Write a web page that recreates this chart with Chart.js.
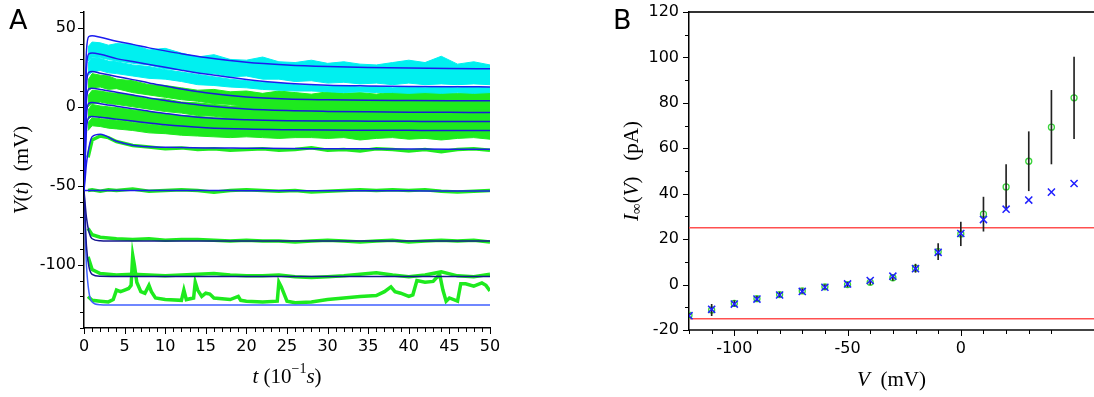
<!DOCTYPE html>
<html>
<head>
<meta charset="utf-8">
<script src="https://cdn.jsdelivr.net/npm/chart.js@4.4.0/dist/chart.umd.min.js"></script>
<style>
  body { margin: 0; background: #fff; }
  #wrap { position: relative; width: 1094px; height: 397px; }
  canvas { position: absolute; top: 0; }
</style>
</head>
<body>
<div id="wrap">
  <canvas id="chartA" width="560" height="397" style="left:0"></canvas>
  <canvas id="chartB" width="534" height="397" style="left:560px"></canvas>
</div>
<script>
// ---- panel A : fitted curves (time in 10^-1 s, V in mV)
var tFit = [0, 0.15, 0.3, 0.6, 1, 2, 4, 6, 8, 10, 12, 15, 20, 25, 30, 35, 40, 45, 50];
var fit1  = [-53, 5, 35, 44.5, 45, 44, 41.5, 39.5, 37.3, 35.4, 33.6, 31.2, 28.2, 26.5, 25.5, 24.9, 24.5, 24.2, 24.1];
var fit2  = [-53, -5, 24, 33.5, 34, 33.2, 30.5, 28.6, 26.8, 25, 23.2, 20.7, 17.3, 14.9, 13.7, 13.2, 12.9, 12.7, 12.6];
var fit3  = [-53, -15, 13, 21.8, 22.3, 21.3, 19.2, 17.2, 15.1, 13.2, 11.3, 8.9, 6.2, 4.9, 4.4, 4.1, 4, 3.9, 3.8];
var fit4  = [-53, -22, 3, 11.3, 11.8, 11, 9.2, 7.4, 5.6, 4, 2.5, 0.6, -1.4, -2.4, -2.9, -3.2, -3.4, -3.5, -3.6];
var fit5  = [-53, -28, -6, 2.2, 2.7, 2, 0.4, -1.2, -2.8, -4.2, -5.5, -7, -8.2, -8.8, -9, -9.1, -9.2, -9.3, -9.3];
var fit6  = [-53, -34, -15, -6.6, -6.1, -6.6, -7.8, -9, -10.2, -11.3, -12.2, -13.2, -14.1, -14.5, -14.7, -14.8, -14.9, -15, -15];
var fit7  = [-53, -45, -36, -26, -19, -17.4, -21.8, -24.3, -25.3, -25.6, -25.8, -26, -26.2, -26.4, -26.5, -26.6, -26.7, -26.8, -26.8];
var fit8  = [-53, -53, -53, -53, -53, -53, -53, -53, -53, -53, -53, -53, -53.1, -53.1, -53.2, -53.2, -53.2, -53.3, -53.3];
var fit9  = [-53, -62, -70, -79, -83.5, -84.8, -85, -85, -85, -85, -85, -85, -85, -85, -85, -85, -85, -85, -85];
var fit10 = [-53, -72, -88, -101, -106, -107.3, -107.4, -107.4, -107.4, -107.4, -107.4, -107.4, -107.4, -107.4, -107.4, -107.4, -107.4, -107.4, -107.4];
var fit11 = [-53, -80, -100, -117, -123.5, -125.3, -125.5, -125.5, -125.5, -125.5, -125.5, -125.5, -125.5, -125.5, -125.5, -125.5, -125.5, -125.5, -125.5];

// ---- panel A : noisy recordings, upper / lower envelopes
var tN = [0.5, 1, 2, 3, 4, 6, 8, 10, 12, 14, 16, 18, 20, 22, 24, 26, 28, 30, 32, 34, 36, 38, 40, 42, 44, 46, 48, 50];
var cyanAUp = [38, 41, 40.5, 39, 40, 39.5, 36, 37, 34, 31.5, 33, 30, 29.5, 31.5, 28.5, 28, 29.5, 27.5, 28.5, 27, 26.5, 28, 29.5, 28, 32, 27, 28.5, 26.5];
var cyanALo = [29, 31.5, 31, 30, 29, 27.5, 26.5, 24, 23.5, 21.5, 21, 19, 19.5, 17.5, 17.5, 16, 16.5, 15, 15.5, 14.5, 15, 14, 15, 14, 14.5, 14, 14.5, 14];
var cyanBUp = [28, 31, 30.5, 29, 28.5, 26.5, 25.5, 23.5, 22, 20.5, 19, 17.5, 16.5, 15.5, 15, 14, 13.5, 13, 13.5, 12.5, 13, 12, 12.5, 12, 12.5, 12, 12.5, 12];
var cyanBLo = [20, 22, 23, 21.5, 21, 19.5, 18, 17.5, 16, 14, 13.5, 12.5, 12, 11, 10.5, 10, 10, 9.5, 9, 9.5, 9, 9, 8.5, 9, 8.5, 9, 8.5, 9];
var g3Up = [17, 21, 20, 19.5, 17.5, 16.5, 14, 13.5, 12, 10.5, 11, 9.5, 10, 8.5, 10, 9, 8, 9.5, 8.5, 9, 8, 9.5, 8.5, 10, 9, 8.5, 9.5, 9];
var g3Lo = [10, 12, 12.5, 11, 11.5, 9, 7.5, 6, 4.5, 3.5, 2, 1.5, 0.5, 0, -0.5, -1, -1, -1.5, -1, -2, -1.5, -2, -1.5, -2, -2, -1.5, -2, -2];
var g4Up = [7, 10.5, 10, 9, 8.5, 7.5, 5, 5, 3, 2.5, 1.5, 0.5, 1, 0, 0.5, -0.5, 0, -1, 0, -1, -0.5, -1.5, 0, -1, -0.5, -1, 0, -1];
var g4Lo = [0, 2, 3, 2, 1.5, 0, -1.5, -3, -4, -5.5, -6, -7, -7.5, -8, -8.5, -8.5, -9, -9, -9.5, -9, -9.5, -10, -9.5, -10, -10, -9.5, -10, -10];
var g5Up = [-2, 1.5, 0.5, 0, -0.5, -2, -3, -4.5, -5.5, -6, -7, -7, -7.5, -8, -7.5, -8, -8.5, -8, -8.5, -8, -9, -8.5, -8.5, -9, -8.5, -9, -8.5, -9];
var g5Lo = [-8, -6, -6.5, -7.5, -8, -9.5, -10.5, -11.5, -13, -13.5, -14, -14.5, -15, -15, -15.5, -15.5, -15.5, -16, -15.5, -16, -16, -16.5, -16, -16, -16.5, -16, -16.5, -16];
var g6Up = [-10, -7, -7.5, -8, -8.5, -10, -11, -12, -13, -13.5, -14, -14.5, -15, -15, -15, -15.5, -15.5, -15.5, -15.5, -16, -15.5, -16, -16, -16, -16, -16, -16, -16];
var g6Lo = [-15, -12, -12.5, -13.5, -14, -15, -16.5, -17, -18, -18.5, -19, -19.5, -19, -19.5, -20, -19.5, -19.5, -20, -19.5, -21, -20, -19.5, -20.5, -20, -21, -20, -19.5, -20.5];
var g7  = [-32, -21, -18.5, -19.5, -22, -24.5, -25.5, -26.5, -26, -27, -26.5, -27.5, -27, -26.5, -27.5, -27, -26, -27.5, -27, -28, -26.5, -27, -28, -27, -28.5, -27, -26.5, -27.5];
var g8  = [-53, -52.5, -53.5, -52.5, -53, -52, -53.5, -53, -52.5, -53, -54, -53, -52.5, -53, -53.5, -53, -54, -53.5, -53, -52.5, -53, -52.5, -53, -52.5, -53.5, -54, -53.5, -53];
var g9  = [-77, -81, -82.5, -83, -83.5, -84, -83.5, -84.5, -84, -84, -84.5, -85, -84.5, -85, -85, -85.5, -85, -84.5, -85, -85.5, -85, -84.5, -85.5, -85, -84.5, -85, -84.5, -85.5];
var g10 = [-95, -103, -105.5, -106, -106.5, -106, -106.5, -107, -106.5, -106, -105.5, -106.5, -107, -107, -106.5, -107.5, -108, -107.5, -107, -106, -105, -106.5, -107.5, -106.5, -104.5, -107, -107.5, -106];
var tG11 = [0.5, 1, 2, 3, 3.6, 4, 4.5, 5, 5.5, 5.8, 6, 6.2, 6.5, 7, 7.5, 8, 8.3, 8.8, 10, 12, 12.3, 12.6, 13.5, 13.7, 14, 14.5, 15, 15.5, 16, 18, 19, 19.3, 20, 22, 23.8, 24, 24.3, 25, 26, 28, 30, 32, 34, 36, 37, 37.8, 38.3, 39, 40, 40.5, 41, 42, 43, 43.8, 44.2, 44.6, 45, 46, 46.4, 47, 48, 49, 49.5, 50];
var g11  = [-120, -122.5, -123, -123.5, -122, -116, -117, -116, -115, -113, -94, -100, -111, -117, -118, -113, -117, -121, -122, -122.5, -116, -122, -121, -111, -116, -120, -118, -118.5, -121, -122, -120, -122.5, -123, -123.5, -123, -111, -114, -123, -124, -123.5, -122, -121, -120, -119.5, -117, -114, -117, -118, -120, -119, -110, -111, -110.5, -106, -116, -123, -121, -123, -112, -112, -113.5, -111.5, -113, -116.5];

// ---- panel B : steady state current
var vSteps = [-120, -110, -100, -90, -80, -70, -60, -50, -40, -30, -20, -10, 0, 10, 20, 30, 40, 50];
var iMeas  = [-13.5, -11.2, -8.3, -6.2, -4.4, -2.8, -1, 0, 1, 3, 7.2, 14.5, 22.3, 31, 43, 54.3, 69.3, 82.2];
var iErr   = [1, 2.5, 1.2, 1, 1, 1, 1, 1, 1, 1.2, 1.8, 3.5, 5.2, 7.5, 9.8, 13, 16.2, 18];
var iModel = [-13.7, -10.9, -8.6, -6.4, -4.6, -3, -1.2, 0.3, 1.8, 3.7, 7, 14.2, 22.5, 28.6, 33.2, 37.2, 40.7, 44.5];
var redLevels = [25, -15];
var vMin = -120, vMax = 58.8;

var CYAN = '#00f0f0', GREEN = '#1eea1e';
var tickFont = { family: 'DejaVu Sans', size: 16 };

function xy(ts, vs) { return ts.map(function (t, i) { return { x: t, y: vs[i] }; }); }
function near(v, step) { return Math.abs(v / step - Math.round(v / step)) < 1e-6; }
// fixed axis boxes, no extra room for overflowing labels
function fixX(h) { return function (s) { s.height = h; s.paddingLeft = 0; s.paddingRight = 0; }; }
function fixY(w) { return function (s) { s.width = w; s.paddingTop = 0; s.paddingBottom = 0; }; }

// ticks drawn from the scale positions, longer at labelled values
var tickMarks = {
  id: 'tickMarks',
  afterDraw: function (chart, args, opts) {
    var ctx = chart.ctx;
    ctx.save();
    ctx.strokeStyle = '#000';
    ctx.lineWidth = 1;
    ['x', 'y'].forEach(function (id) {
      var s = chart.scales[id], o = opts[id];
      s.ticks.forEach(function (t) {
        if (!near(t.value, o.minor)) return;
        var len = near(t.value, o.major) ? 6 : 4;
        var p = Math.round(s.getPixelForValue(t.value)) + 0.5;
        ctx.beginPath();
        if (s.isHorizontal()) { ctx.moveTo(p, s.top); ctx.lineTo(p, s.top + len); }
        else { ctx.moveTo(s.right, p); ctx.lineTo(s.right - len, p); }
        ctx.stroke();
      });
    });
    ctx.restore();
  }
};

// axis titles with italic / sub / superscript parts
function drawRich(ctx, segs, cx, cy, rot) {
  ctx.save();
  ctx.translate(cx, cy);
  ctx.rotate(rot);
  ctx.textBaseline = 'middle';
  ctx.fillStyle = '#000';
  var font = function (s) { return (s.i ? 'italic ' : '') + (s.s || 21) + 'px "Liberation Serif"'; };
  var w = 0;
  segs.forEach(function (s) { ctx.font = font(s); s.w = ctx.measureText(s.t).width; w += s.w; });
  var x = -w / 2;
  segs.forEach(function (s) { ctx.font = font(s); ctx.fillText(s.t, x, s.dy || 0); x += s.w; });
  ctx.restore();
}

var titles = {
  id: 'titles',
  afterDraw: function (chart, args, o) {
    var ctx = chart.ctx, a = chart.chartArea;
    drawRich(ctx, o.y, a.left + o.yOff, (a.top + a.bottom) / 2, -Math.PI / 2);
    drawRich(ctx, o.x, (a.left + a.right) / 2, a.bottom + o.xOff, 0);
    ctx.save();
    ctx.font = '27px "DejaVu Sans"';
    ctx.fillStyle = '#000';
    ctx.textBaseline = 'alphabetic';
    ctx.fillText(o.letter, a.left + o.letterX, 29);
    ctx.restore();
  }
};

// ---------------- panel A
var dsA = [];
var fitColors = ['#1c1cf0', '#1c1cf0', '#1a1ad8', '#1a1ad8', '#1a1ad8', '#1a1ad8', '#1c1ce8', '#1c1ce8', '#161690', '#161690', '#4060ff'];
[fit1, fit2, fit3, fit4, fit5, fit6, fit7, fit8, fit9, fit10, fit11].forEach(function (f, k) {
  dsA.push({ data: xy(tFit, f), borderColor: fitColors[k], borderWidth: 1.5, cubicInterpolationMode: 'monotone', order: 0 });
});
[[tN, g7], [tN, g8], [tN, g9], [tN, g10], [tG11, g11]].forEach(function (p) {
  dsA.push({ data: xy(p[0], p[1]), borderColor: GREEN, borderWidth: 3.5, tension: 0, order: 1 });
});
[[cyanALo, cyanAUp, CYAN], [cyanBLo, cyanBUp, CYAN], [g3Lo, g3Up, GREEN], [g4Lo, g4Up, GREEN], [g5Lo, g5Up, GREEN], [g6Lo, g6Up, GREEN]].forEach(function (b) {
  var idx = dsA.length;
  dsA.push({ data: xy(tN, b[0]), borderColor: b[2], borderWidth: 1, tension: 0, fill: false, order: 2 });
  dsA.push({ data: xy(tN, b[1]), borderColor: b[2], borderWidth: 1, tension: 0, backgroundColor: b[2], fill: idx, order: 2 });
});

new Chart(document.getElementById('chartA'), {
  type: 'line',
  data: { datasets: dsA },
  plugins: [tickMarks, titles],
  options: {
    responsive: false, animation: false, devicePixelRatio: 1,
    layout: { autoPadding: false, padding: { left: 0, right: 70, top: 12, bottom: 0 } },
    elements: { point: { radius: 0 } },
    plugins: {
      legend: { display: false }, tooltip: { enabled: false },
      tickMarks: { x: { minor: 1, major: 5 }, y: { minor: 10, major: 50 } },
      titles: {
        y: [{ t: 'V', i: 1 }, { t: '(' }, { t: 't', i: 1 }, { t: ')  (mV)' }],
        x: [{ t: 't', i: 1 }, { t: ' (10' }, { t: '\u22121', s: 14, dy: -8 }, { t: 's', i: 1 }, { t: ')' }],
        yOff: -62, xOff: 49, letter: 'A', letterX: -75
      }
    },
    scales: {
      x: {
        type: 'linear', min: 0, max: 50,
        afterFit: fixX(69),
        grid: { display: false, drawTicks: false },
        border: { display: true, color: '#000', width: 1.5 },
        ticks: { stepSize: 1, autoSkip: false, maxRotation: 0, padding: 9, color: '#000', font: tickFont,
          callback: function (v) { return near(v, 5) ? String(v) : ''; } }
      },
      y: {
        type: 'linear', min: -140, max: 60,
        afterFit: fixY(84),
        grid: { display: false, drawTicks: false },
        border: { display: true, color: '#000', width: 1.5 },
        ticks: { stepSize: 10, autoSkip: false, padding: 8, color: '#000', font: tickFont,
          callback: function (v) { return near(v, 50) ? String(v) : ''; } }
      }
    }
  }
});

// ---------------- panel B
var dsB = [];
dsB.push({ type: 'line', data: xy(vSteps, iModel), showLine: false, pointStyle: 'crossRot', pointRadius: 5,
  pointBorderColor: '#1f1fff', pointBorderWidth: 1.5, order: 0 });
dsB.push({ type: 'bar', data: vSteps.map(function (v, i) { return { x: v, y: [iMeas[i] - iErr[i], iMeas[i] + iErr[i]] }; }),
  backgroundColor: '#222', borderWidth: 0, barThickness: 1, grouped: false, order: 1 });
dsB.push({ type: 'line', data: xy(vSteps, iMeas), showLine: false, pointStyle: 'circle', pointRadius: 3,
  pointBorderColor: '#3ad43a', pointBackgroundColor: 'rgba(0,0,0,0)', pointBorderWidth: 1.3, order: 2 });
redLevels.forEach(function (lv) {
  dsB.push({ type: 'line', data: [{ x: vMin, y: lv }, { x: vMax, y: lv }], borderColor: '#ff5050', borderWidth: 1.5, pointRadius: 0, order: 3 });
});

new Chart(document.getElementById('chartB'), {
  type: 'line',
  data: { datasets: dsB },
  plugins: [tickMarks, titles],
  options: {
    responsive: false, animation: false, devicePixelRatio: 1,
    layout: { autoPadding: false, padding: { left: 0, right: 0, top: 12, bottom: 0 } },
    plugins: {
      legend: { display: false }, tooltip: { enabled: false },
      tickMarks: { x: { minor: 10, major: 50 }, y: { minor: 10, major: 20 } },
      titles: {
        y: [{ t: 'I', i: 1 }, { t: '\u221e', s: 15, dy: 5 }, { t: '(' }, { t: 'V', i: 1 }, { t: ')   (pA)' }],
        x: [{ t: 'V', i: 1 }, { t: '  (mV)' }],
        yOff: -57, xOff: 50, letter: 'B', letterX: -76
      }
    },
    scales: {
      x: {
        type: 'linear', min: vMin, max: vMax, offset: false,
        afterFit: fixX(67),
        grid: { display: false, drawTicks: false },
        border: { display: true, color: '#444', width: 2 },
        ticks: { stepSize: 10, autoSkip: false, maxRotation: 0, padding: 9, color: '#000', font: tickFont,
          callback: function (v) { return near(v, 50) ? String(v) : ''; } }
      },
      x2: {
        type: 'linear', position: 'top', min: vMin, max: vMax,
        afterFit: fixX(0),
        grid: { display: false, drawTicks: false },
        border: { display: true, color: '#333', width: 2 },
        ticks: { display: false }
      },
      y: {
        type: 'linear', min: -20, max: 120,
        afterFit: fixY(129),
        grid: { display: false, drawTicks: false },
        border: { display: true, color: '#000', width: 1.5 },
        ticks: { stepSize: 10, autoSkip: false, padding: 10, color: '#000', font: tickFont,
          callback: function (v) { return near(v, 20) ? String(v) : ''; } }
      }
    }
  }
});
</script>
</body>
</html>
